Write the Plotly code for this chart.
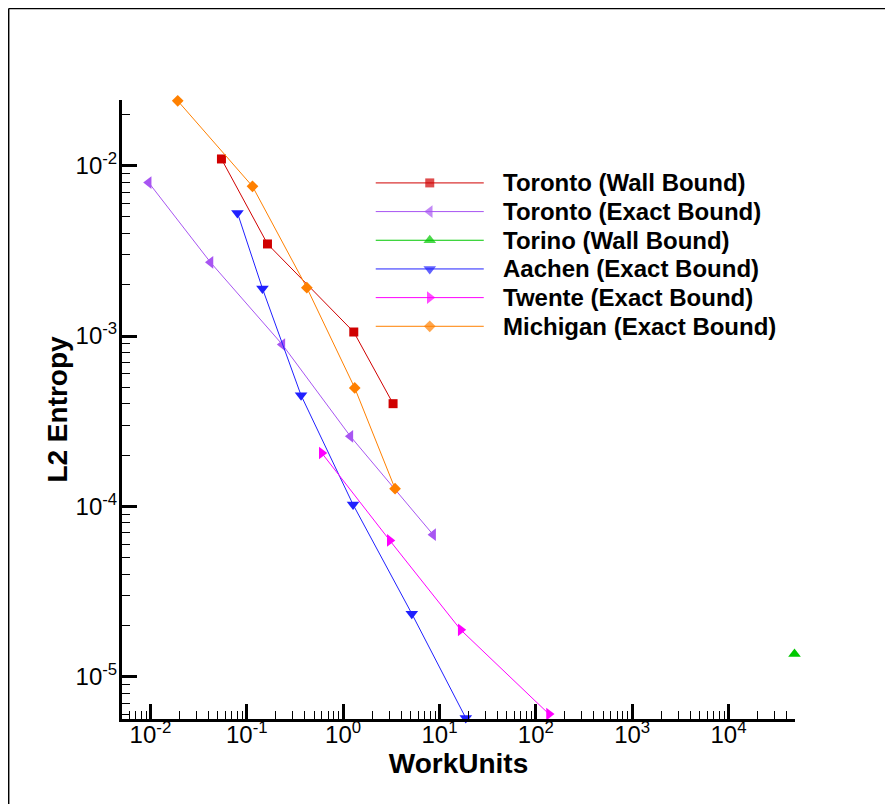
import plotly.graph_objects as go

# ---------------- data ----------------
toronto_wall_x = [0.0546, 0.164, 1.29, 3.30]
toronto_wall_y = [0.01094, 0.00347, 0.001056, 0.000401]

toronto_exact_x = [0.0096, 0.0420, 0.234, 1.19, 8.59]
toronto_exact_y = [0.00795, 0.002707, 0.000891, 0.000258, 6.83e-5]

torino_wall_x = [48400]
torino_wall_y = [1.362e-5]

aachen_exact_x = [0.080, 0.1455, 0.366, 1.268, 5.16, 18.75]
aachen_exact_y = [0.00528, 0.0019, 0.000449, 0.0001026, 2.35e-5, 5.74e-6]

twente_exact_x = [0.600, 3.05, 16.6, 137]
twente_exact_y = [0.000206, 6.32e-5, 1.89e-5, 6.05e-6]

michigan_exact_x = [0.0192, 0.1146, 0.420, 1.32, 3.46]
michigan_exact_y = [0.0240, 0.00756, 0.001923, 0.000496, 0.0001272]

series_names = [
    "Toronto (Wall Bound)",
    "Toronto (Exact Bound)",
    "Torino (Wall Bound)",
    "Aachen (Exact Bound)",
    "Twente (Exact Bound)",
    "Michigan (Exact Bound)",
]

x_tick_vals = [0.01, 0.1, 1, 10, 100, 1000, 10000]
x_tick_text = ["10<sup>-2</sup>", "10<sup>-1</sup>", "10<sup>0</sup>", "10<sup>1</sup>",
               "10<sup>2</sup>", "10<sup>3</sup>", "10<sup>4</sup>"]
y_tick_vals = [1e-5, 1e-4, 1e-3, 1e-2]
y_tick_text = ["10<sup>-5</sup>", "10<sup>-4</sup>", "10<sup>-3</sup>", "10<sup>-2</sup>"]

x_title = "WorkUnits"
y_title = "L2 Entropy"

# ---------------- styles ----------------
styles = [
    dict(color="#d00000", symbol="square", size=9),
    dict(color="#a855f2", symbol="triangle-left", size=11),
    dict(color="#00c800", symbol="triangle-up", size=11),
    dict(color="#2020ff", symbol="triangle-down", size=11),
    dict(color="#ff00ff", symbol="triangle-right", size=11),
    dict(color="#ff8000", symbol="diamond", size=9),
]
series = [
    (toronto_wall_x, toronto_wall_y),
    (toronto_exact_x, toronto_exact_y),
    (torino_wall_x, torino_wall_y),
    (aachen_exact_x, aachen_exact_y),
    (twente_exact_x, twente_exact_y),
    (michigan_exact_x, michigan_exact_y),
]

FONT = "Liberation Sans, Arial, Helvetica, sans-serif"

fig = go.Figure()
for name, (xs, ys), st in zip(series_names, series, styles):
    fig.add_trace(go.Scatter(
        x=xs, y=ys, name=name, mode="lines+markers",
        line=dict(color=st["color"], width=1),
        marker=dict(symbol=st["symbol"], size=st["size"], color=st["color"],
                    line=dict(width=0)),
        cliponaxis=False, showlegend=False,
    ))

# page offset of the figure (browser body margin)
OFF = 8
W, H = 893, 804
# plotting-area edges in page pixels
PX_L, PX_R, PX_T, PX_B = 122.3, 795.2, 100.4, 719.3

# ---------------- custom legend (Tecplot-like long sample lines) ----------------
leg_x0, leg_x1, leg_xm, leg_tx = 376, 484, 430, 501
leg_y0, leg_dy = 183.3, 28.67
for i, (name, st) in enumerate(zip(series_names, styles)):
    yy = leg_y0 + i * leg_dy
    fig.add_trace(go.Scatter(
        x=[leg_x0, leg_xm, leg_x1], y=[yy, yy, yy], xaxis="x2", yaxis="y2",
        mode="lines+markers",
        line=dict(color=st["color"], width=1),
        marker=dict(symbol=st["symbol"], size=[0, st["size"], 0], color=st["color"],
                    line=dict(width=0)),
        showlegend=False, hoverinfo="skip", cliponaxis=False,
    ))
    fig.add_annotation(
        x=leg_tx, y=yy, xref="x2", yref="y2", text=name, showarrow=False,
        xanchor="left", yanchor="middle",
        font=dict(family=FONT, size=24, color="black", weight="bold"),
    )

fig.update_layout(
    width=W, height=H,
    margin=dict(l=PX_L - OFF, r=W - (PX_R - OFF), t=PX_T - OFF, b=H - (PX_B - OFF), pad=0),
    paper_bgcolor="white", plot_bgcolor="white",
    showlegend=False,
    font=dict(family=FONT, color="black"),
    xaxis=dict(
        type="log", range=[-2.295, 4.69],
        tickmode="array", tickvals=x_tick_vals, ticktext=x_tick_text,
        ticks="inside", ticklen=15, tickwidth=3, tickcolor="black",
        showline=True, linewidth=3, linecolor="black", mirror=False,
        showgrid=False, zeroline=False,
        tickfont=dict(family=FONT, size=24, color="black"),
        ticklabelstandoff=-8,
        minor=dict(ticks="inside", ticklen=8, tickwidth=1, tickcolor="black",
                   dtick="D1", showgrid=False),
        title=dict(text=x_title, standoff=0,
                   font=dict(family=FONT, size=28, color="black", weight="bold")),
    ),
    yaxis=dict(
        type="log", range=[-5.247, -1.615],
        tickmode="array", tickvals=y_tick_vals, ticktext=y_tick_text,
        ticks="inside", ticklen=15, tickwidth=3, tickcolor="black",
        showline=True, linewidth=3, linecolor="black", mirror=False,
        showgrid=False, zeroline=False,
        tickfont=dict(family=FONT, size=24, color="black"),
        ticklabelstandoff=-3,
        minor=dict(ticks="inside", ticklen=8, tickwidth=1, tickcolor="black",
                   dtick="D1", showgrid=False),
        title=dict(text=y_title, standoff=0,
                   font=dict(family=FONT, size=28, color="black", weight="bold")),
    ),
    xaxis2=dict(overlaying="x", range=[PX_L, PX_R], visible=False, fixedrange=True),
    yaxis2=dict(overlaying="y", range=[PX_B, PX_T], visible=False, fixedrange=True),
)

# outer frame (top and left edges visible in the reference)
def px_x(p):
    return (p - PX_L) / (PX_R - PX_L)

def px_y(p):
    return (PX_B - p) / (PX_B - PX_T)

fig.add_shape(type="line", xref="paper", yref="paper",
              x0=px_x(OFF + 1), x1=px_x(OFF + W), y0=px_y(OFF + 1), y1=px_y(OFF + 1),
              line=dict(color="black", width=1.5))
fig.add_shape(type="line", xref="paper", yref="paper",
              x0=px_x(OFF + 1), x1=px_x(OFF + 1), y0=px_y(OFF + 1), y1=px_y(OFF + H),
              line=dict(color="black", width=1.5))

fig.write_html("out.html")
